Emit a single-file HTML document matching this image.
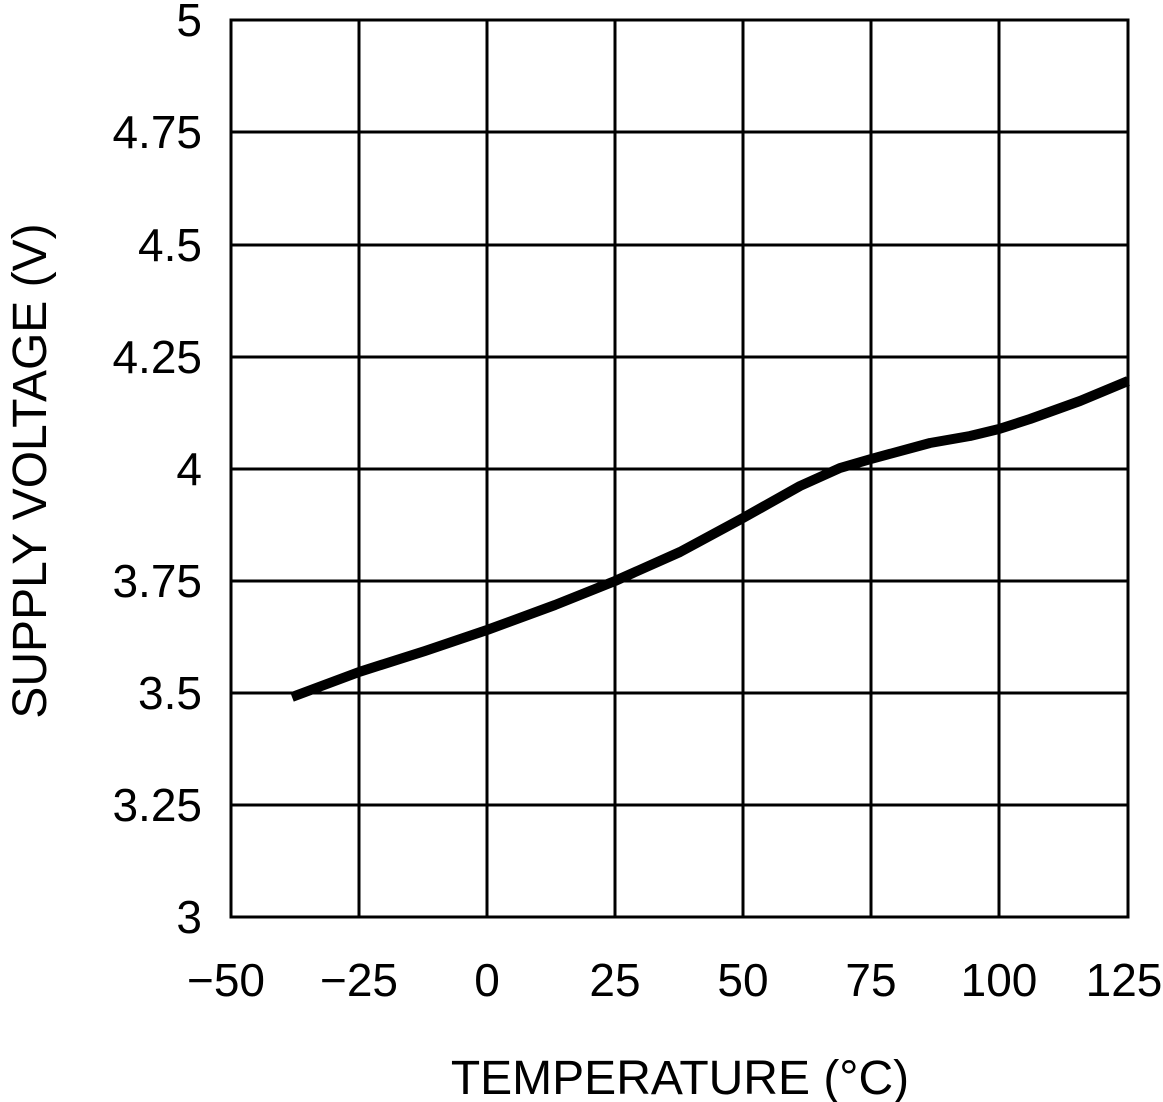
<!DOCTYPE html>
<html><head><meta charset="utf-8"><style>html,body{margin:0;padding:0;background:#fff}svg{display:block}</style></head>
<body>
<svg width="1163" height="1102" viewBox="0 0 1163 1102" xmlns="http://www.w3.org/2000/svg" font-family="Liberation Sans, sans-serif" fill="#000">
<g stroke="#000" stroke-width="3">
<line x1="359" y1="20" x2="359" y2="917"/><line x1="487" y1="20" x2="487" y2="917"/><line x1="615" y1="20" x2="615" y2="917"/><line x1="743" y1="20" x2="743" y2="917"/><line x1="871" y1="20" x2="871" y2="917"/><line x1="999" y1="20" x2="999" y2="917"/>
<line x1="231" y1="132" x2="1128" y2="132"/><line x1="231" y1="245" x2="1128" y2="245"/><line x1="231" y1="357" x2="1128" y2="357"/><line x1="231" y1="469" x2="1128" y2="469"/><line x1="231" y1="581" x2="1128" y2="581"/><line x1="231" y1="693" x2="1128" y2="693"/><line x1="231" y1="805" x2="1128" y2="805"/>
<rect x="231" y="20" width="897" height="897" fill="none"/>
</g>
<path d="M292,697 L359,672 L425,651 L487,630 L555,605 L615,581 L680,552 L743,518 L800,486 L840,468 L871,459 L930,443 L970,436 L999,429 L1030,419 L1080,401 L1128,381" fill="none" stroke="#000" stroke-width="10" stroke-linejoin="round"/>
<g font-size="46" text-anchor="end">
<text x="202" y="36">5</text><text x="202" y="148">4.75</text><text x="202" y="261">4.5</text><text x="202" y="373">4.25</text><text x="202" y="485">4</text><text x="202" y="597">3.75</text><text x="202" y="709">3.5</text><text x="202" y="821">3.25</text><text x="202" y="933">3</text>
</g>
<g font-size="46" text-anchor="middle">
<text x="226" y="996">−50</text><text x="359" y="996">−25</text><text x="487" y="996">0</text><text x="615" y="996">25</text><text x="743" y="996">50</text><text x="871" y="996">75</text><text x="999" y="996">100</text><text x="1124" y="996">125</text>
</g>
<text x="680" y="1094" font-size="48" text-anchor="middle">TEMPERATURE (°C)</text>
<text transform="translate(46,471) rotate(-90)" font-size="48" text-anchor="middle">SUPPLY VOLTAGE (V)</text>
</svg>
</body></html>
